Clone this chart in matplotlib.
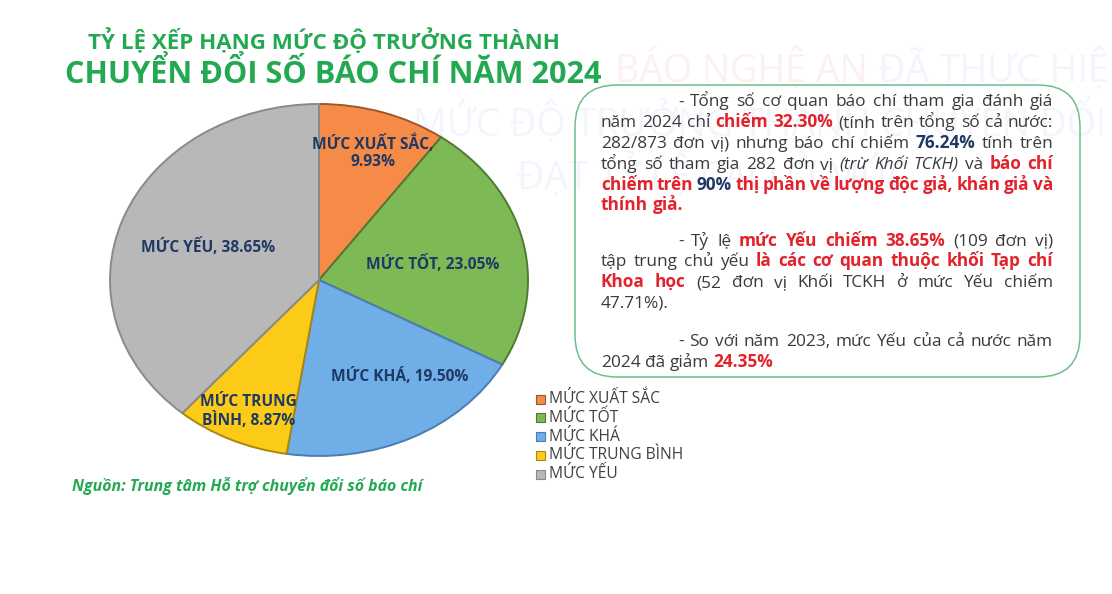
import matplotlib
matplotlib.use('Agg')
import matplotlib.pyplot as plt
from matplotlib.font_manager import FontProperties
from matplotlib.patches import FancyBboxPatch, Rectangle
import numpy as np

W, H, DPI = 1112, 594, 100
FAM = ['Open Sans', 'DejaVu Sans']

# ---------------- data ----------------
categories = ['MỨC XUẤT SẮC', 'MỨC TỐT', 'MỨC KHÁ', 'MỨC TRUNG BÌNH', 'MỨC YẾU']
values = [9.93, 23.05, 19.50, 8.87, 38.65]
slice_labels = ['MỨC XUẤT SẮC,\n9.93%', 'MỨC TỐT, 23.05%', 'MỨC KHÁ, 19.50%',
                'MỨC TRUNG\nBÌNH, 8.87%', 'MỨC YẾU, 38.65%']
colors = ['#F68B47', '#7DBA55', '#6FAEE7', '#FCCB18', '#B8B8B8']
edge_colors = ['#9A5A2E', '#4F7A33', '#4A7DB0', '#A88712', '#8A8A8A']

title_1 = 'TỶ LỆ XẾP HẠNG MỨC ĐỘ TRƯỞNG THÀNH'
title_2 = 'CHUYỂN ĐỔI SỐ BÁO CHÍ NĂM 2024'
source = 'Nguồn: Trung tâm Hỗ trợ chuyển đổi số báo chí'

# note paragraphs: each line is a list of (text, style) runs
para_1 = [
    [('- Tổng số cơ quan báo chí tham gia đánh giá', 'n')],
    [('năm 2024 chỉ', 'n'), ('chiếm 32.30%', 'r'), ('(tính trên tổng số cả nước:', 'n')],
    [('282/873 đơn vị) nhưng báo chí chiếm', 'n'), ('76.24%', 'b'), ('tính trên', 'n')],
    [('tổng số tham gia 282 đơn vị', 'n'), ('(trừ Khối TCKH)', 'i'), ('và', 'n'), ('báo chí', 'r')],
    [('chiếm trên', 'r'), ('90%', 'b'), ('thị phần về lượng độc giả, khán giả và', 'r')],
    [('thính giả.', 'r')],
]
para_2 = [
    [('- Tỷ lệ', 'n'), ('mức Yếu chiếm 38.65%', 'r'), ('(109 đơn vị)', 'n')],
    [('tập trung chủ yếu', 'n'), ('là các cơ quan thuộc khối Tạp chí', 'r')],
    [('Khoa học', 'r'), ('(52 đơn vị Khối TCKH ở mức Yếu chiếm', 'n')],
    [('47.71%).', 'n')],
]
para_3 = [
    [('- So với năm 2023, mức Yếu của cả nước năm', 'n')],
    [('2024 đã giảm', 'n'), ('24.35%', 'r')],
]

watermark = [('BÁO NGHỆ AN', '#FDF0F0'), ('ĐÃ THỰC HIỆN', '#F2F6FC')]
watermark_2 = 'MỨC ĐỘ TRƯỞNG THÀNH CHUYỂN ĐỔI SỐ'
watermark_3 = 'ĐẠT TỶ LỆ CAO Ở MỨC'
WM_BLUE = '#F2F6FC'

# ---------------- styles ----------------
GREEN = '#22A952'
TXT = '#3A3A3A'
RED = '#E2232C'
NAVY = '#1F3864'
STY = {
    'n': dict(color=TXT, weight='normal', style='normal'),
    'r': dict(color=RED, weight='bold', style='normal'),
    'b': dict(color=NAVY, weight='bold', style='normal'),
    'i': dict(color=TXT, weight='normal', style='italic'),
}

fig = plt.figure(figsize=(W / DPI, H / DPI), dpi=DPI)
fig.patch.set_facecolor('white')
renderer = fig.canvas.get_renderer()


def tw(s, size, weight='normal', style='normal'):
    fp = FontProperties(family=FAM, size=size, weight=weight, style=style)
    w, h, d = renderer.get_text_width_height_descent(s, fp, ismath=False)
    return w


def fit(s, target, weight='normal', style='normal'):
    return 10 * target / tw(s, 10, weight, style)


def full_axes(z):
    a = fig.add_axes([0, 0, 1, 1], zorder=z)
    a.set_xlim(0, W)
    a.set_ylim(H, 0)
    a.axis('off')
    return a


ax_bg = full_axes(0)
ax_fg = full_axes(2)

# ---------------- watermark ----------------
wm_size = fit(watermark[0][0], 253)
x = 615
for txt, col in watermark:
    ax_bg.text(x, 82, txt, fontsize=wm_size, family=FAM, color=col, va='baseline')
    x += tw(txt + ' ', wm_size)
ax_bg.text(413, 136, watermark_2, fontsize=wm_size, family=FAM, color=WM_BLUE, va='baseline')
ax_bg.text(517, 189, watermark_3, fontsize=wm_size, family=FAM, color=WM_BLUE, va='baseline')

# ---------------- pie ----------------
cx, cy, rx, ry = 319, 280, 209, 176
ax = fig.add_axes([(cx - rx) / W, 1 - (cy + ry) / H, 2 * rx / W, 2 * ry / H], zorder=1)
wedges, _ = ax.pie(values, colors=colors, startangle=90, counterclock=False, radius=1,
                   wedgeprops=dict(linewidth=1.4))
for wdg, ec in zip(wedges, edge_colors):
    wdg.set_edgecolor(ec)
ax.set_aspect('auto')
ax.set_xlim(-1, 1)
ax.set_ylim(-1, 1)
ax.axis('off')

lab_r = [0.77, 0.55, 0.67, 0.82, 0.565]
lab_da = [-1.6, -3.3, 9.1, 0.6, 0.9]
lab_size = fit('MỨC YẾU, 38.65%', 134, weight='bold')
for wdg, lab, r, da in zip(wedges, slice_labels, lab_r, lab_da):
    ang = np.deg2rad((wdg.theta1 + wdg.theta2) / 2 + da)
    ax.text(r * np.cos(ang), r * np.sin(ang), lab, ha='center', va='center',
            fontsize=lab_size, family=FAM, weight='bold', color=NAVY, linespacing=1.15)

# ---------------- titles ----------------
s1 = fit(title_1, 472, weight='bold')
s2 = fit(title_2, 535, weight='bold')
ax_fg.text(88, 49, title_1, fontsize=s1, family=FAM, weight='bold', color=GREEN, va='baseline')
ax_fg.text(65, 83, title_2, fontsize=s2, family=FAM, weight='bold', color=GREEN, va='baseline')

ss = fit(source, 350, weight='bold', style='italic')
ax_fg.text(72, 491, source, fontsize=ss, family=FAM, weight='bold', style='italic',
           color=GREEN, va='baseline')

# ---------------- legend ----------------
leg_size = fit('MỨC TRUNG BÌNH', 135)
for i, (cat, c, ec) in enumerate(zip(categories, colors, edge_colors)):
    yy = 399 + i * 18.8
    ax_fg.add_patch(Rectangle((536, yy - 4.5), 9, 9, facecolor=c, edgecolor=ec, lw=0.8))
    ax_fg.text(549, yy, cat, fontsize=leg_size, family=FAM, color='#404040', va='center')

# ---------------- note box ----------------
box = FancyBboxPatch((575, 85), 505, 292, boxstyle='round,pad=0,rounding_size=42',
                     facecolor='none', edgecolor='#6CC08B', lw=1.1)
ax_fg.add_patch(box)

L, R, IND = 601, 1053, 678


def run_width(runs, size):
    total = 0
    for text, st in runs:
        for wd in text.split():
            total += tw(wd, size, STY[st]['weight'], STY[st]['style'])
    nwords = sum(len(t.split()) for t, _ in runs)
    return total + (nwords - 1) * tw(' ', size)


fs = 10 * 172 / run_width(para_3[1], 10)
space = tw('a a', fs) - tw('aa', fs)


def draw_para(lines, y0, step=20.8):
    for k, runs in enumerate(lines):
        y = y0 + k * step
        toks = []
        for text, st in runs:
            for wd in text.split():
                toks.append((wd, st, tw(wd, fs, STY[st]['weight'], STY[st]['style'])))
        x0 = IND if k == 0 else L
        last = (k == len(lines) - 1)
        if last or len(toks) < 2:
            gap = space
        else:
            gap = (R - x0 - sum(t[2] for t in toks)) / (len(toks) - 1)
        x = x0
        for wd, st, w in toks:
            ax_fg.text(x, y, wd, fontsize=fs, family=FAM, va='baseline', ha='left', **STY[st])
            x += w + gap


draw_para(para_1, 106.5)
draw_para(para_2, 245.5)
draw_para(para_3, 346)

fig.savefig('out.png', dpi=DPI, facecolor='white')
